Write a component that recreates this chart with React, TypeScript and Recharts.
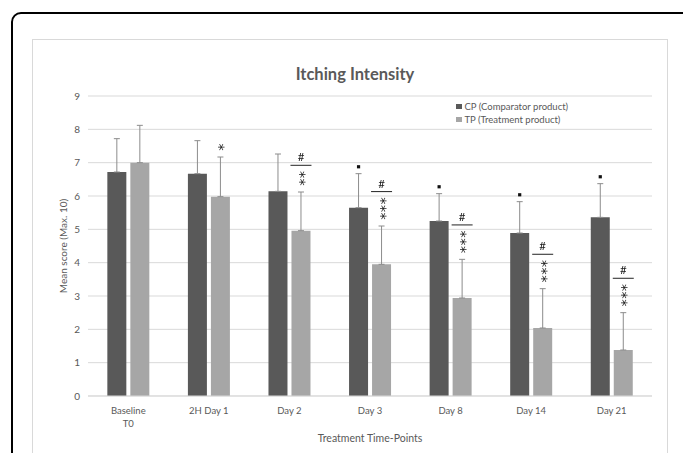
import React from "react";
import { BarChart, Bar, XAxis, YAxis, CartesianGrid, ErrorBar, Legend, LabelList } from "recharts";

const categories = ["Baseline T0", "2H Day 1", "Day 2", "Day 3", "Day 8", "Day 14", "Day 21"];
const tickLines: Record<string, string[]> = {
  "Baseline T0": ["Baseline", "T0"],
};
const yTicks = [0, 1, 2, 3, 4, 5, 6, 7, 8, 9];

const cpMean = [6.72, 6.67, 6.14, 5.65, 5.25, 4.89, 5.36];
const cpSd = [1.0, 0.99, 1.12, 1.02, 0.82, 0.94, 1.01];
const tpMean = [7.0, 5.98, 4.96, 3.95, 2.94, 2.04, 1.38];
const tpSd = [1.12, 1.19, 1.16, 1.15, 1.16, 1.18, 1.12];

// significance marks
const cpMark = [false, false, false, true, true, true, true];
const tpStars = [0, 1, 2, 3, 3, 3, 3];
const tpHash = [false, false, true, true, true, true, true];

const data = categories.map((name, i) => ({
  name,
  cp: cpMean[i],
  cpErr: [0, cpSd[i]],
  tp: tpMean[i],
  tpErr: [0, tpSd[i]],
}));

const INK = "#595959";
const FONT = "Lato, 'Open Sans', sans-serif";
const CP_COLOR = "#595959";
const TP_COLOR = "#a6a6a6";

function XTick(props: any) {
  const { x, y, payload } = props;
  const lines = tickLines[payload.value] ?? [payload.value];
  return (
    <text x={x} y={y} textAnchor="middle" fill={INK} fontSize={9.5} fontFamily={FONT}>
      {lines.map((l, i) => (
        <tspan key={i} x={x} dy={i === 0 ? 10 : 13}>
          {l}
        </tspan>
      ))}
    </text>
  );
}

function CpMark(props: any) {
  const { x, y, width, height, value, index } = props;
  if (!cpMark[index]) return null;
  const unit = height / value;
  const top = y - cpSd[index] * unit;
  const cx = x + width / 2;
  return <rect x={cx - 1.6} y={top - 8.5} width={3.2} height={3.2} fill="#111" />;
}

function TpMark(props: any) {
  const { x, y, width, height, value, index } = props;
  const n = tpStars[index];
  if (!n) return null;
  const unit = height / value;
  const top = y - tpSd[index] * unit;
  const cx = x + width / 2;
  const step = 7.7;
  const topStar = top - 10 - step * (n - 1);
  const midY = top - 10 - (step * (n - 1)) / 2;
  const lineY = topStar - 9;
  // the stars are one column of text, turned so it runs upward
  return (
    <g style={{ filter: "grayscale(1)" }}>
      <text
        x={cx}
        y={midY}
        dy={3}
        transform={`rotate(-90 ${cx} ${midY})`}
        textAnchor="middle"
        dominantBaseline="central"
        fontSize={14.5}
        letterSpacing={step - 7.25}
        fill="#1a1a1a"
        fontFamily="'DejaVu Sans', sans-serif"
      >
        {"*".repeat(n)}
      </text>
      {tpHash[index] && (
        <>
          <line x1={cx - 10.5} x2={cx + 10.5} y1={lineY} y2={lineY} stroke="#222" strokeWidth={1} />
          <text x={cx} y={lineY - 4} textAnchor="middle" fontSize={11.5} fill="#1a1a1a" fontFamily={FONT}>
            #
          </text>
        </>
      )}
    </g>
  );
}

function LegendBox() {
  const items = [
    { label: "CP (Comparator product)", color: CP_COLOR },
    { label: "TP (Treatment product)", color: TP_COLOR },
  ];
  return (
    <div style={{ fontFamily: FONT, fontSize: 9.5, color: INK, lineHeight: "13px" }}>
      {items.map((it) => (
        <div key={it.label} style={{ display: "flex", alignItems: "center" }}>
          <span style={{ width: 5.5, height: 5.5, background: it.color, marginRight: 3, display: "inline-block" }} />
          {it.label}
        </div>
      ))}
    </div>
  );
}

export default function App() {
  return (
    <div style={{ position: "absolute", left: 0, top: 0, width: 683, height: 453, overflow: "hidden", background: "#fff" }}>
      <div
        style={{
          position: "absolute",
          left: 11,
          top: 12,
          width: 700,
          height: 520,
          border: "2px solid #000",
          borderRadius: 10,
        }}
      />
      <div
        style={{
          position: "absolute",
          left: 32,
          top: 39,
          width: 634,
          height: 500,
          border: "1px solid #d9d9d9",
        }}
      />
      <div
        style={{
          position: "absolute",
          left: 37,
          width: 636,
          top: 64,
          textAlign: "center",
          fontFamily: FONT,
          fontWeight: 700,
          fontSize: 16.5,
          color: INK,
        }}
      >
        Itching Intensity
      </div>
      <div style={{ position: "absolute", left: 0, top: 0 }}>
        <BarChart
          width={683}
          height={453}
          data={data}
          margin={{ top: 96, right: 31, left: 58, bottom: 17 }}
          barCategoryGap="24%"
          barGap={4}
        >
          <CartesianGrid vertical={false} stroke="#d9d9d9" />
          <XAxis
            dataKey="name"
            tickLine={false}
            axisLine={{ stroke: "#d9d9d9" }}
            tick={<XTick />}
            interval={0}
            height={40}
            label={{ value: "Treatment Time-Points", position: "insideBottom", offset: -6, fill: INK, fontSize: 10.5, fontFamily: FONT }}
          />
          <YAxis
            domain={[0, 9]}
            ticks={yTicks}
            tickLine={false}
            axisLine={false}
            width={30}
            tick={{ fill: INK, fontSize: 10, fontFamily: FONT }}
            label={{
              value: "Mean score (Max. 10)",
              angle: -90,
              position: "insideLeft",
              offset: 5,
              style: { textAnchor: "middle", fill: INK, fontSize: 10, fontFamily: FONT },
            }}
          />
          <Legend
            layout="vertical"
            align="center"
            verticalAlign="middle"
            content={<LegendBox />}
            wrapperStyle={{ left: 456, top: 100, width: 170 }}
          />
          <Bar dataKey="cp" name="CP (Comparator product)" fill={CP_COLOR} isAnimationActive={false}>
            <ErrorBar dataKey="cpErr" width={3} stroke="#8c8c8c" strokeWidth={1} direction="y" />
            <LabelList dataKey="cp" content={<CpMark />} />
          </Bar>
          <Bar dataKey="tp" name="TP (Treatment product)" fill={TP_COLOR} isAnimationActive={false}>
            <ErrorBar dataKey="tpErr" width={3} stroke="#8c8c8c" strokeWidth={1} direction="y" />
            <LabelList dataKey="tp" content={<TpMark />} />
          </Bar>
        </BarChart>
      </div>
    </div>
  );
}
